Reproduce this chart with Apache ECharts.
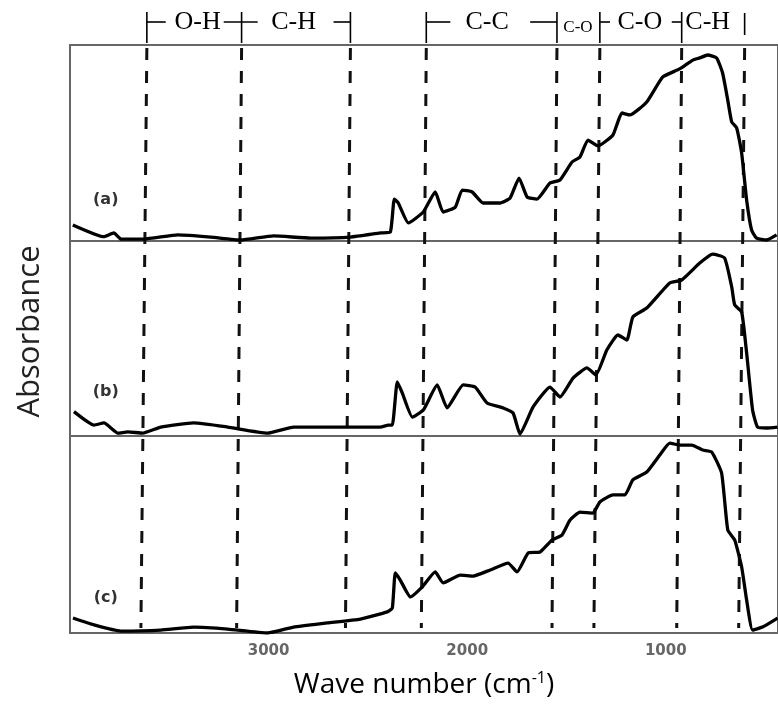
<!DOCTYPE html>
<html>
<head>
<meta charset="utf-8">
<script src="https://cdn.jsdelivr.net/npm/echarts@6/dist/echarts.min.js"></script>
<style>
  html, body { margin: 0; padding: 0; background: #fff; }
  #chart { width: 778px; height: 707px; }
</style>
</head>
<body>
<div id="chart"></div>
<script>
// traced spectra: wave number (cm-1) and absorbance (0-100 of panel height)
const waveA = [3986, 3829, 3779, 3744, 3628, 3457, 3291, 3141, 2975, 2789, 2588, 2437, 2387, 2367, 2347, 2296, 2221, 2161, 2121, 2060, 2025, 1975, 1920, 1834, 1784, 1739, 1698, 1648, 1583, 1533, 1472, 1432, 1392, 1342, 1266, 1221, 1181, 1096, 1015, 930, 864, 829, 789, 744, 714, 688, 668, 643, 618, 593, 568, 543, 493, 442];
const absA = [8.2, 2.2, 4.1, 1.0, 1.0, 3.1, 2.0, 0.5, 2.6, 1.5, 2.0, 4.1, 4.6, 21.4, 19.4, 9.2, 14.8, 25.0, 14.8, 17.3, 26.0, 25.0, 19.4, 19.4, 21.9, 32.1, 22.4, 21.4, 29.6, 31.1, 40.3, 42.9, 51.5, 48.5, 54.1, 65.3, 64.3, 70.9, 83.7, 87.8, 92.3, 93.4, 94.9, 93.4, 85.7, 71.9, 60.7, 57.7, 44.9, 20.9, 5.6, 1.5, 0.5, 3.1];

const waveB = [3980, 3879, 3829, 3759, 3709, 3633, 3543, 3377, 3206, 3005, 2874, 2603, 2437, 2397, 2377, 2352, 2327, 2276, 2221, 2151, 2101, 2020, 1960, 1900, 1819, 1769, 1734, 1668, 1583, 1533, 1467, 1397, 1352, 1297, 1241, 1196, 1166, 1096, 980, 920, 829, 764, 704, 668, 653, 618, 593, 563, 538, 493, 437];
const absB = [12.5, 5.6, 6.7, 1.5, 2.1, 1.5, 4.6, 6.7, 4.6, 1.5, 4.6, 4.6, 4.6, 5.6, 5.6, 27.7, 22.1, 9.7, 13.3, 26.2, 14.4, 26.2, 25.1, 16.9, 14.4, 11.8, 1.0, 14.9, 25.1, 20.0, 29.7, 34.9, 31.3, 44.1, 51.8, 49.2, 61.0, 65.6, 78.5, 80.0, 88.7, 93.3, 91.3, 76.4, 67.2, 63.6, 42.6, 13.3, 4.6, 4.1, 4.6];

const waveC = [3985, 3879, 3744, 3543, 3377, 3206, 3005, 2874, 2704, 2538, 2402, 2377, 2362, 2337, 2286, 2226, 2161, 2121, 2035, 1970, 1884, 1794, 1749, 1693, 1633, 1573, 1523, 1482, 1432, 1367, 1332, 1266, 1206, 1166, 1096, 1030, 980, 930, 869, 814, 769, 719, 688, 653, 618, 593, 563, 513, 437];
const absC = [7.6, 4.1, 1.0, 1.5, 3.0, 2.0, 0.0, 3.0, 5.1, 7.1, 10.7, 12.7, 30.5, 26.9, 18.3, 23.4, 31.0, 25.4, 29.4, 28.9, 32.0, 35.5, 31.0, 40.6, 41.1, 47.2, 49.7, 57.4, 61.4, 60.9, 66.5, 70.1, 70.1, 77.7, 81.7, 90.4, 96.4, 95.4, 95.4, 92.9, 91.9, 81.2, 52.3, 47.2, 33.5, 16.8, 1.5, 3.0, 7.6];

const tickLabels = [1000, 2000, 3000];
const panelNames = ['(a)', '(b)', '(c)'];

// band dividers (dashed lines lean slightly, so top and bottom wave numbers)
const dividerTop = [3613, 3136, 2588, 2206, 1548, 1332, 920, 603];
const dividerBottom = [3643, 3161, 2613, 2231, 1573, 1362, 945, 633];
// short horizontal strokes of the bracket marks in the header
const bracketStrokes = [[3613, 3518], [3226, 3055], [2673, 2588], [2206, 2085], [1683, 1548], [1332, 1281], [970, 920]];
const bandLabels = ['O-H', 'C-H', 'C-C', 'C-O', 'C-O', 'C-H'];
const bandLabelPos = [3357, 2874, 1900, 1442, 1131, 789];

const xMin = 435, xMax = 4000;
const panels = [
    { top: 45, height: 196 },
    { top: 241, height: 195 },
    { top: 436, height: 197 }
];

function pairs(w, a) {
    return w.map((v, i) => [v, a[i]]);
}

const chart = echarts.init(document.getElementById('chart'));

const grids = panels.map(p => ({
    left: 70, right: 0, top: p.top, height: p.height,
    show: true, borderColor: '#666', borderWidth: 2,
    backgroundColor: 'transparent'
}));
grids.push({ left: 70, right: 0, top: 0, height: 633 });

const xAxes = grids.map((g, i) => ({
    gridIndex: i,
    type: 'value',
    min: xMin,
    max: xMax,
    inverse: true,
    axisLine: { show: false },
    axisTick: { show: false },
    splitLine: { show: false },
    axisLabel: { show: false }
}));
xAxes[2].axisLabel = {
    show: true,
    customValues: tickLabels,
    formatter: v => String(v),
    margin: 11,
    color: '#666',
    fontWeight: 'bold',
    fontSize: 15,
    fontFamily: 'DejaVu Sans'
};
xAxes[2].name = 'Wave number (cm{sup|-1})';
xAxes[2].nameLocation = 'middle';
xAxes[2].nameGap = 37;
xAxes[2].nameTextStyle = {
    color: '#000',
    fontSize: 28,
    fontFamily: 'Open Sans',
    rich: {
        sup: { fontSize: 16, fontFamily: 'Open Sans', color: '#000', verticalAlign: 'top', padding: [0, 0, 14, 0] }
    }
};

const yAxes = grids.map((g, i) => ({
    gridIndex: i,
    type: 'value',
    min: 0,
    max: i === 3 ? 633 : 100,
    inverse: i === 3,
    show: i === 1,
    axisLine: { show: false },
    axisTick: { show: false },
    splitLine: { show: false },
    axisLabel: { show: false }
}));
yAxes[1].name = 'Absorbance';
yAxes[1].nameLocation = 'middle';
yAxes[1].nameRotate = 90;
yAxes[1].nameGap = 24;
yAxes[1].nameTextStyle = { color: '#222', fontSize: 31, fontFamily: 'Open Sans', padding: [0, 0, 0, 14] };

const spectra = [pairs(waveA, absA), pairs(waveB, absB), pairs(waveC, absC)];

const series = spectra.map((d, i) => ({
    type: 'line',
    xAxisIndex: i,
    yAxisIndex: i,
    data: d,
    symbol: 'none',
    smooth: 0.15,
    lineStyle: { color: '#000', width: 3.3 },
    silent: true
}));

// dashed band dividers across all three panels
series.push({
    type: 'custom',
    xAxisIndex: 3,
    yAxisIndex: 3,
    silent: true,
    data: dividerTop.map((t, i) => [t, dividerBottom[i]]),
    renderItem: function (params, api) {
        const a = api.coord([api.value(0), 48]);
        const b = api.coord([api.value(1), 628]);
        return {
            type: 'line',
            shape: { x1: a[0], y1: a[1], x2: b[0], y2: b[1] },
            style: { stroke: '#111', lineWidth: 3, lineDash: [12, 11] }
        };
    }
});

// header bracket bars
series.push({
    type: 'custom',
    xAxisIndex: 3,
    yAxisIndex: 3,
    silent: true,
    data: dividerTop.map(t => [t]),
    renderItem: function (params, api) {
        const last = params.dataIndex === dividerTop.length - 1;
        const a = api.coord([api.value(0), last ? 13 : 12]);
        const b = api.coord([api.value(0), last ? 35 : 43]);
        return {
            type: 'line',
            shape: { x1: a[0], y1: a[1], x2: b[0], y2: b[1] },
            style: { stroke: '#000', lineWidth: 1.6 }
        };
    }
});
series.push({
    type: 'custom',
    xAxisIndex: 3,
    yAxisIndex: 3,
    silent: true,
    data: bracketStrokes,
    renderItem: function (params, api) {
        const a = api.coord([api.value(0), 22]);
        const b = api.coord([api.value(1), 22]);
        return {
            type: 'line',
            shape: { x1: a[0], y1: a[1], x2: b[0], y2: b[1] },
            style: { stroke: '#000', lineWidth: 1.6 }
        };
    }
});

// band names
series.push({
    type: 'custom',
    xAxisIndex: 3,
    yAxisIndex: 3,
    silent: true,
    data: bandLabelPos.map(w => [w]),
    renderItem: function (params, api) {
        const small = params.dataIndex === 3;
        const p = api.coord([api.value(0), small ? 28 : 22]);
        return {
            type: 'text',
            x: p[0],
            y: p[1],
            style: {
                text: bandLabels[params.dataIndex],
                fontFamily: 'Liberation Serif',
                fontSize: small ? 17 : 26,
                fill: '#000',
                align: 'center',
                verticalAlign: 'middle'
            }
        };
    }
});

// panel tags (a) (b) (c)
series.push({
    type: 'custom',
    xAxisIndex: 3,
    yAxisIndex: 3,
    silent: true,
    data: [[3820, 200], [3820, 392], [3820, 598]],
    renderItem: function (params, api) {
        const p = api.coord([api.value(0), api.value(1)]);
        return {
            type: 'text',
            x: p[0],
            y: p[1],
            style: {
                text: panelNames[params.dataIndex],
                fontFamily: 'DejaVu Sans',
                fontWeight: 'bold',
                fontSize: 16,
                fill: '#333',
                align: 'center',
                verticalAlign: 'middle'
            }
        };
    }
});

chart.setOption({
    backgroundColor: '#fff',
    animation: false,
    grid: grids,
    xAxis: xAxes,
    yAxis: yAxes,
    series: series
});
</script>
</body>
</html>
